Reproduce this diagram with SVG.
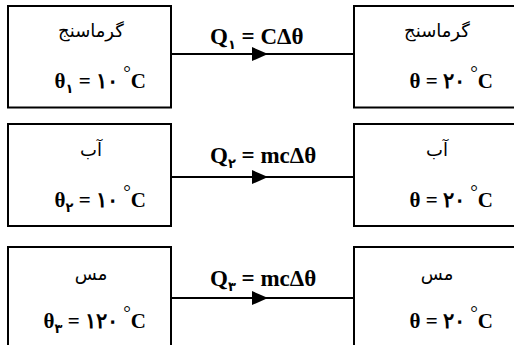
<svg xmlns="http://www.w3.org/2000/svg" width="514" height="345" viewBox="0 0 514 345">
<style>
.box{fill:#fff;stroke:#000;stroke-width:2}
.fa{font-family:"DejaVu Sans",sans-serif;font-size:18px;text-anchor:middle;fill:#000}
.m{font-family:"Liberation Serif","DejaVu Serif",serif;font-weight:bold;font-size:21px;fill:#000}
.q{font-size:23px}
.sub{font-family:"DejaVu Sans",sans-serif;font-size:13px}
.deg{font-size:19px;font-weight:normal}
.conn{stroke:#000;stroke-width:2;fill:none}
</style>
<defs>
<marker id="arr" viewBox="0 0 16 14" refX="16" refY="7" markerWidth="16" markerHeight="14" markerUnits="userSpaceOnUse" orient="auto">
<path d="M0,0 L16,7 L0,14 Z" fill="#000"/>
</marker>
</defs>
<g id="connectors">
<path class="conn" d="M171,54 L268,54 L354,54" marker-mid="url(#arr)"/>
<path class="conn" d="M171,177 L268,177 L354,177" marker-mid="url(#arr)"/>
<path class="conn" d="M171,298 L268,298 L354,298" marker-mid="url(#arr)"/>
<text class="m q" x="210" y="44">Q<tspan class="sub" dy="5">۱</tspan><tspan dy="-5"> = CΔθ</tspan></text>
<text class="m q" x="210" y="163">Q<tspan class="sub" dy="5">۲</tspan><tspan dy="-5"> = mcΔθ</tspan></text>
<text class="m q" x="210" y="286">Q<tspan class="sub" dy="5">۳</tspan><tspan dy="-5"> = mcΔθ</tspan></text>
</g>
<g id="calorimeter-1">
<rect class="box" x="8" y="6" width="163" height="101.5"/>
<text class="fa" x="91" y="37">گرماسنج</text>
<text class="m" x="146" y="88" text-anchor="end">θ<tspan class="sub" dy="5">۱</tspan><tspan dy="-5"> = ۱۰ </tspan><tspan class="deg" dy="-9">°</tspan><tspan dy="9">C</tspan></text>
</g>
<g id="calorimeter-2">
<rect class="box" x="354" y="6" width="170" height="101.5"/>
<text class="fa" x="437" y="37">گرماسنج</text>
<text class="m" x="493" y="88" text-anchor="end">θ = ۲۰ <tspan class="deg" dy="-9">°</tspan><tspan dy="9">C</tspan></text>
</g>
<g id="water-1">
<rect class="box" x="8" y="124" width="163" height="102"/>
<text class="fa" x="91" y="156">آب</text>
<text class="m" x="146" y="207" text-anchor="end">θ<tspan class="sub" dy="5">۲</tspan><tspan dy="-5"> = ۱۰ </tspan><tspan class="deg" dy="-9">°</tspan><tspan dy="9">C</tspan></text>
</g>
<g id="water-2">
<rect class="box" x="354" y="124" width="170" height="102"/>
<text class="fa" x="437" y="156">آب</text>
<text class="m" x="493" y="207" text-anchor="end">θ = ۲۰ <tspan class="deg" dy="-9">°</tspan><tspan dy="9">C</tspan></text>
</g>
<g id="copper-1">
<rect class="box" x="8" y="247" width="163" height="110"/>
<text class="fa" x="91" y="280">مس</text>
<text class="m" x="146" y="328" text-anchor="end">θ<tspan class="sub" dy="5">۳</tspan><tspan dy="-5"> = ۱۲۰ </tspan><tspan class="deg" dy="-9">°</tspan><tspan dy="9">C</tspan></text>
</g>
<g id="copper-2">
<rect class="box" x="354" y="247" width="170" height="110"/>
<text class="fa" x="437" y="280">مس</text>
<text class="m" x="493" y="328" text-anchor="end">θ = ۲۰ <tspan class="deg" dy="-9">°</tspan><tspan dy="9">C</tspan></text>
</g>
</svg>
